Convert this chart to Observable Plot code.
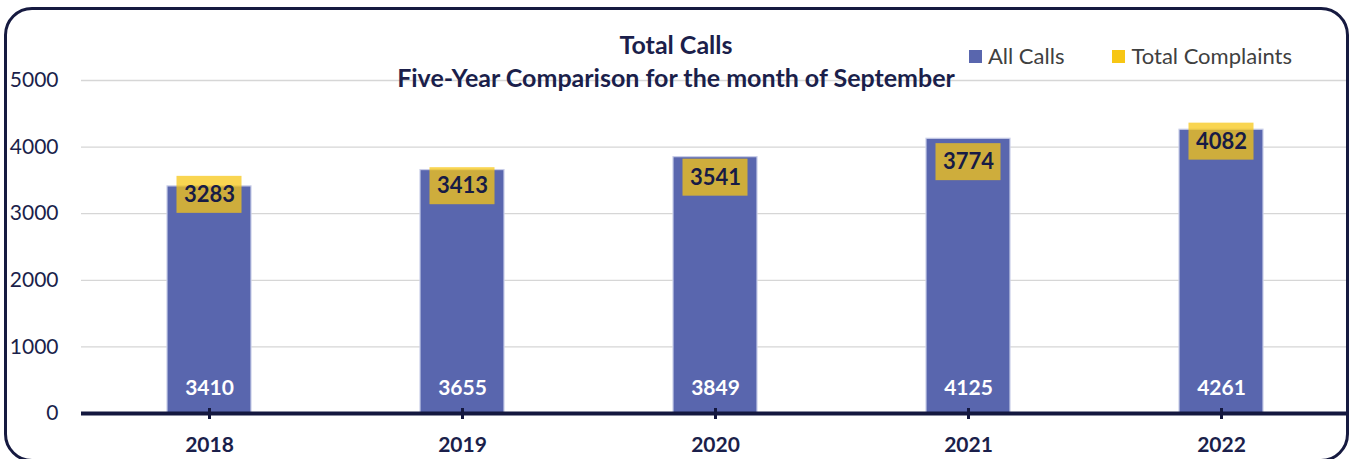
<!DOCTYPE html>
<html>
<head>
<meta charset="utf-8">
<script src="https://cdn.jsdelivr.net/npm/d3@7"></script>
<script src="https://cdn.jsdelivr.net/npm/@observablehq/plot@0.6"></script>
<style>
  html, body { margin: 0; padding: 0; background: #fff; }
  #wrap { position: relative; width: 1352px; height: 459px; overflow: hidden; font-family: Lato, "Open Sans", sans-serif; }
  #wrap svg { position: absolute; left: 0; top: 0; }
  #border { position: absolute; left: 4px; top: 7px; width: 1339px; height: 449px; border: 3px solid #161a40; border-radius: 28px; pointer-events: none; }
  .title { position: absolute; left: 0; width: 1352px; text-align: center; font-weight: 700; font-size: 25px; color: #1b1f4b; line-height: 1; }
  #legend { position: absolute; top: 45px; left: 969px; font-size: 22px; color: #404040; display: flex; align-items: center; white-space: nowrap; line-height: 22px; }
  #legend .sw { display: inline-block; width: 13px; height: 13px; margin-right: 6px; }
  #legend .item { display: flex; align-items: center; }
  .plot g[aria-label="x-axis tick label"] text { font-weight: 700; }
</style>
</head>
<body>
<div id="wrap">
  <div id="chart"></div>
  <div id="border"></div>
  <div class="title" id="t1" style="top:32px;"></div>
  <div class="title" id="t2" style="top:65px;"></div>
  <div id="legend"></div>
</div>
<script>
const titleText = "Total Calls";
const subtitleText = "Five-Year Comparison for the month of September";
const years = ["2018", "2019", "2020", "2021", "2022"];
const allCalls = [3410, 3655, 3849, 4125, 4261];
const totalComplaints = [3283, 3413, 3541, 3774, 4082];
const yTicks = [0, 1000, 2000, 3000, 4000, 5000];
const seriesNames = ["All Calls", "Total Complaints"];
const seriesColors = ["#5966ae", "#f7c614"];

const data = years.map((y, i) => ({year: y, calls: allCalls[i], complaints: totalComplaints[i]}));
const navy = "#1b1f4b";

document.getElementById("t1").textContent = titleText;
document.getElementById("t2").textContent = subtitleText;
const leg = document.getElementById("legend");
seriesNames.forEach((n, i) => {
  const it = document.createElement("span");
  it.className = "item";
  if (i > 0) it.style.marginLeft = "48px";
  const sw = document.createElement("span");
  sw.className = "sw";
  sw.style.background = seriesColors[i];
  it.appendChild(sw);
  it.appendChild(document.createTextNode(n));
  leg.appendChild(it);
});

const plot = Plot.plot({
  width: 1352,
  height: 459,
  marginLeft: 81,
  marginRight: 3,
  marginTop: 80,
  marginBottom: 46,
  style: {fontFamily: "Lato, 'Open Sans', sans-serif", fontSize: "21px", color: navy, background: "transparent", overflow: "visible"},
  x: {domain: years, paddingInner: 0.668, paddingOuter: 0.334, label: null},
  y: {domain: [0, 5000], label: null},
  marks: [
    Plot.gridY(yTicks, {stroke: "#d6d6d6", strokeOpacity: 1, strokeWidth: 1.3}),
    Plot.axisY(yTicks, {tickSize: 0, tickPadding: 23, fill: navy, fontSize: 21, label: null, tickFormat: d => String(d)}),
    Plot.barY(data, {x: "year", y: "calls", fill: seriesColors[0], stroke: "#c9cde8", strokeWidth: 1.2}),
    Plot.barY(data, {x: "year", y1: "complaints", y2: "complaints", fill: seriesColors[1], fillOpacity: 0.74,
      insetLeft: 9.5, insetRight: 9.5, insetTop: -18.5, insetBottom: -18.5}),
    Plot.ruleY([0], {stroke: "#14183f", strokeWidth: 4}),
    Plot.ruleX(years, {x: d => d, y1: 0, y2: 0, stroke: "#14183f", strokeWidth: 3, insetTop: -5, insetBottom: -6}),
    Plot.axisX({tickSize: 0, tickPadding: 24, fill: navy, fontSize: 21, fontWeight: 700, label: null}),
    Plot.text(data, {x: "year", y: "complaints", text: d => String(d.complaints), fill: "#171b45", fontWeight: 700, fontSize: 22}),
    Plot.text(data, {x: "year", y: 0, text: d => String(d.calls), fill: "#ffffff", fontWeight: 700, fontSize: 21, dy: -25})
  ]
});
document.getElementById("chart").appendChild(plot);
</script>
</body>
</html>
